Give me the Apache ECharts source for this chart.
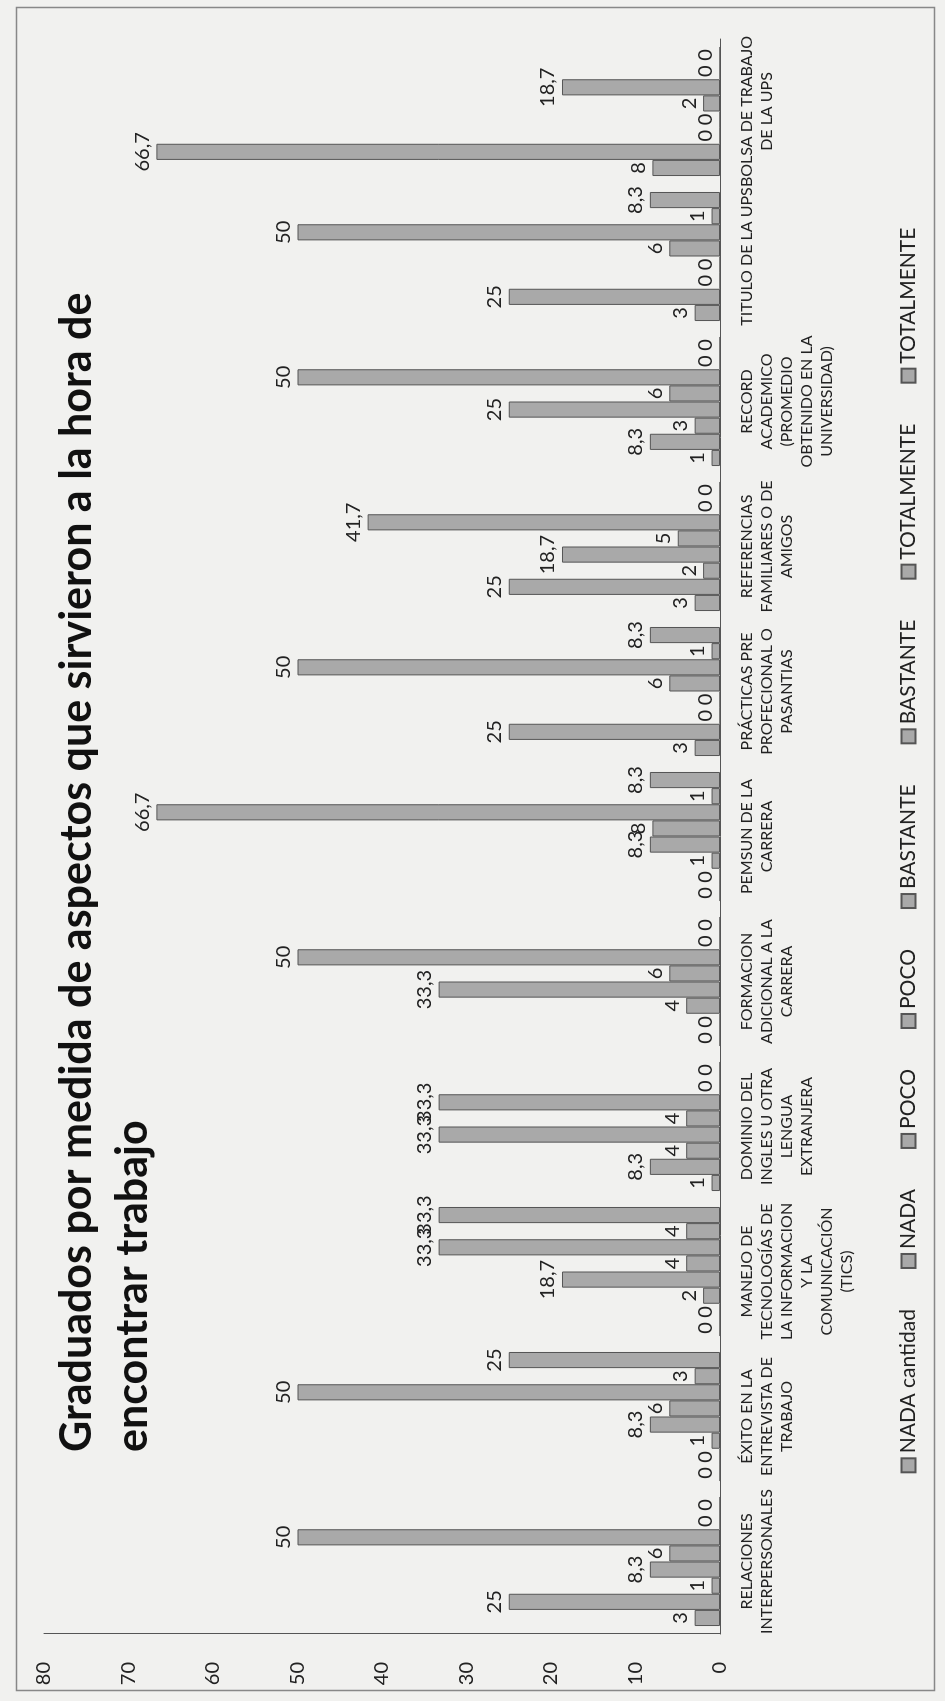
<!DOCTYPE html>
<html>
<head>
<meta charset="utf-8">
<script src="https://cdn.jsdelivr.net/npm/echarts@6/dist/echarts.min.js"></script>
<style>
  html, body { margin:0; padding:0; width:945px; height:1701px; overflow:hidden; background:#f1f1ef; }
  #chart { position:absolute; left:0; top:0; width:1701px; height:945px;
           transform-origin:0 0; transform: translate(0px, 1701px) rotate(-90deg); }
</style>
</head>
<body>
<div id="chart"></div>
<script>
const categories = [
  "RELACIONES\nINTERPERSONALES",
  "ÉXITO EN LA\nENTREVISTA DE\nTRABAJO",
  "MANEJO DE\nTECNOLOGÍAS DE\nLA INFORMACION\nY LA\nCOMUNICACIÓN\n(TICS)",
  "DOMINIO DEL\nINGLES U OTRA\nLENGUA\nEXTRANJERA",
  "FORMACION\nADICIONAL A LA\nCARRERA",
  "PEMSUN DE LA\nCARRERA",
  "PRÁCTICAS PRE\nPROFECIONAL O\nPASANTIAS",
  "REFERENCIAS\nFAMILIARES O DE\nAMIGOS",
  "RECORD\nACADEMICO\n(PROMEDIO\nOBTENIDO EN LA\nUNIVERSIDAD)",
  "TITULO DE LA UPS",
  "BOLSA DE TRABAJO\nDE LA UPS"
];
// legend names as shown (duplicates kept distinct with a zero-width suffix)
const seriesNames = ["NADA cantidad","NADA","POCO","POCO\u200b","BASTANTE","BASTANTE\u200b","TOTALMENTE","TOTALMENTE\u200b"];
const nadaCantidad       = [3, 0, 0, 1, 0, 0, 3, 3, 1, 3, 8];
const nadaPct            = [25, 0, 0, 8.3, 0, 0, 25, 25, 8.3, 25, 66.7];
const pocoCantidad       = [1, 1, 2, 4, 4, 1, 0, 2, 3, 0, 0];
const pocoPct            = [8.3, 8.3, 18.7, 33.3, 33.3, 8.3, 0, 18.7, 25, 0, 0];
const bastanteCantidad   = [6, 6, 4, 4, 6, 8, 6, 5, 6, 6, 2];
const bastantePct        = [50, 50, 33.3, 33.3, 50, 66.7, 50, 41.7, 50, 50, 18.7];
const totalmenteCantidad = [0, 3, 4, 0, 0, 1, 1, 0, 0, 1, 0];
const totalmentePct      = [0, 25, 33.3, 0, 0, 8.3, 8.3, 0, 0, 8.3, 0];
const valueTicks = { min: 0, max: 80, interval: 10 };

const seriesData = [nadaCantidad, nadaPct, pocoCantidad, pocoPct,
                    bastanteCantidad, bastantePct, totalmenteCantidad, totalmentePct];

const FONT = 'Lato, "Liberation Sans", sans-serif';
const chart = echarts.init(document.getElementById('chart'), null, { renderer: 'canvas' });

const series = seriesData.map((d, i) => ({
  name: seriesNames[i],
  type: 'bar',
  data: d,
  barGap: '0%',
  barCategoryGap: '11%',
  itemStyle: { color: '#a9a9a9', borderColor: '#555555', borderWidth: 1 },
  label: {
    show: true, position: 'top', distance: 4,
    fontFamily: FONT, fontSize: 20, color: '#222',
    formatter: p => String(p.value).replace('.', ',')
  }
}));

chart.setOption({
  backgroundColor: '#f1f1ef',
  animation: false,
  title: {
    text: 'Graduados por medida de aspectos que sirvieron a la hora de\nencontrar trabajo',
    left: 244, top: 44,
    textStyle: { fontFamily: FONT, fontSize: 43, fontWeight: 'bold', color: '#111', lineHeight: 56 }
  },
  legend: {
    data: seriesNames.map(n => ({ name: n })),
    formatter: n => n.replace(/\u200b/g, ''),
    left: 'center', top: 893,
    itemWidth: 14, itemHeight: 14, itemGap: 40,
    icon: 'rect',
    textStyle: { fontFamily: FONT, fontSize: 21, color: '#222' }
  },
  grid: { left: 67, right: 39, top: 44, bottom: 225, containLabel: false },
  xAxis: {
    type: 'category', data: categories,
    axisLine: { show: true, lineStyle: { color: '#555', width: 1 } },
    axisTick: { show: false },
    axisLabel: { interval: 0, margin: 17, fontFamily: FONT, fontSize: 16, lineHeight: 20, color: '#222', align: 'center', verticalAlign: 'top' }
  },
  yAxis: {
    type: 'value', min: valueTicks.min, max: valueTicks.max, interval: valueTicks.interval,
    axisLine: { show: true, lineStyle: { color: '#555', width: 1 } },
    axisTick: { show: false },
    splitLine: { show: false },
    axisLabel: { margin: 28, fontFamily: FONT, fontSize: 20, color: '#222' }
  },
  graphic: [{
    type: 'rect', left: 8, top: 14, silent: true,
    shape: { width: 1683, height: 918 },
    style: { fill: 'none', stroke: '#888', lineWidth: 1.5 }
  }],
  series: series
});
</script>
</body>
</html>
